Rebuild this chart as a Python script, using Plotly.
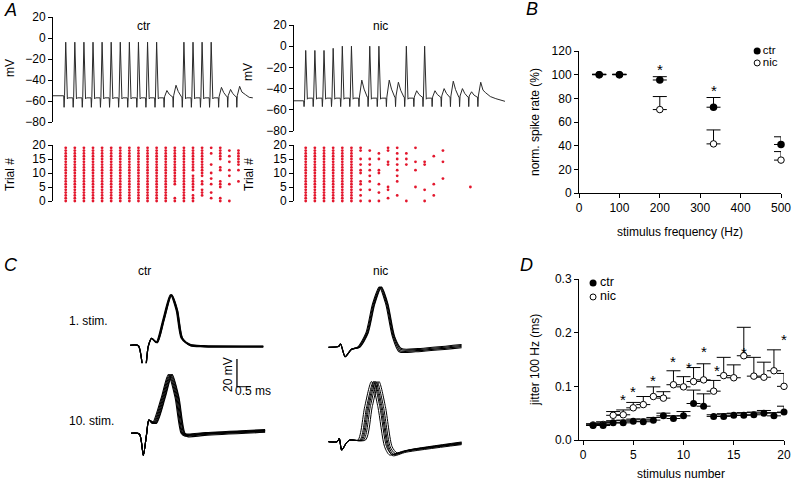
import plotly.graph_objects as go

FONT = "Liberation Sans, Arial, Helvetica, sans-serif"
W, H = 792, 484

# ---------------- DATA ----------------
# Panel A: 100 Hz train, 20 stimuli. Event per stimulus: S = spike, E = subthreshold EPSP; peak in mV
stim_index = list(range(20))
ctr_event_kind = ["S"] * 11 + ["E", "E"] + ["S"] * 4 + ["E", "E", "E"]
ctr_event_peak = [-4, -4, -4, -4, -4, -4, -4, -4, -4, -4, -4, -50, -45, -4, -4, -4, -4, -47, -49, -46]
nic_event_kind = ["S", "S", "S", "S", "S", "S", "E", "S", "S", "E", "E", "S", "E", "S", "E", "E", "E", "E", "E", "E"]
nic_event_peak = [-4, -4, -4, -2, 0, 0, -32, 0, 0, -32, -34, 0, -42, 0, -42, -40, -33, -40, -43, -34]
ctr_tail_t = [200, 204, 208]
ctr_tail_v = [-54, -56.5, -57]
nic_tail_t = [199, 204, 210, 220]
nic_tail_v = [-44, -47.5, -49.5, -52]

# Raster: trials (0..19) with a spike, per stimulus
ALL = list(range(20))
ctr_raster = [ALL] * 12 + [
    [0, 1, 6, 7, 8, 9, 10, 11, 12, 13, 14, 15, 16, 17, 18, 19],
    ALL,
    [0, 1, 2, 4, 5, 6, 7, 8, 9, 11, 12, 13, 14, 15, 16, 17, 18, 19],
    [2, 3, 4, 6, 7, 9, 10, 11, 12, 13, 14, 15, 16, 17, 18, 19],
    [1, 3, 6, 8, 10, 13, 17, 19],
    [0, 1, 5, 6, 7, 11, 12, 15, 16, 17, 18, 19],
    [0, 6, 9, 11, 14, 16, 18],
    [7, 11, 13, 14, 15, 16, 17, 18],
]
nic_raster = [ALL] * 6 + [
    [0, 2, 4, 6, 7, 10, 11, 13, 15, 18, 19],
    [0, 4, 7, 9, 11, 13, 15, 18],
    [0, 3, 6, 10, 11, 15, 17],
    [1, 4, 5, 13, 14, 18, 19],
    [2, 7, 9, 11, 13, 15, 17, 19],
    [0, 13, 15, 17],
    [5, 11, 14, 19],
    [0, 4, 13, 14],
    [2, 6, 16],
    [8, 14, 18],
    [], [], [5], [],
]

# Panel B
freq_hz = [50, 100, 200, 333, 500]
ctr_rate = [100, 100, 95.5, 72.5, 41]
ctr_rate_err = [0.3, 0.3, 2.8, 8.2, 6.5]
nic_rate = [100, 100, 70.5, 41.5, 27.8]
nic_rate_err = [0.3, 0.3, 11.0, 11.8, 7.2]
star_b_x = [200, 333]
star_b_y = [108, 90]
legend_names = ["ctr", "nic"]

# Panel D
stim_number = list(range(1, 21))
ctr_jitter = [0.027, 0.027, 0.032, 0.032, 0.035, 0.034, 0.037, 0.045, 0.040, 0.045,
              0.068, 0.063, 0.044, 0.044, 0.046, 0.046, 0.047, 0.050, 0.045, 0.052]
ctr_jitter_err = [0.003, 0.005, 0.004, 0.005, 0.004, 0.005, 0.005, 0.005, 0.005, 0.008,
                  0.025, 0.023, 0.003, 0.005, 0.004, 0.005, 0.005, 0.005, 0.006, 0.011]
nic_jitter = [0.028, 0.029, 0.046, 0.047, 0.060, 0.066, 0.081, 0.078, 0.103, 0.099,
              0.109, 0.112, 0.091, 0.120, 0.116, 0.157, 0.119, 0.117, 0.129, 0.100]
nic_jitter_err = [0.002, 0.005, 0.007, 0.009, 0.010, 0.015, 0.018, 0.012, 0.026, 0.019,
                  0.026, 0.030, 0.020, 0.034, 0.024, 0.053, 0.035, 0.028, 0.039, 0.024]
star_d_x = [4, 5, 7, 9, 10.5, 12, 13.3, 16, 20]
star_d_y = [0.083, 0.098, 0.119, 0.154, 0.143, 0.172, 0.137, 0.171, 0.194]

# Panel C: knot points (ms, mV relative to baseline); artifact part fixed, spike part jittered
ctr1_art_t = [0, 0.30, 0.51, 0.65, 0.77]
ctr1_art_v = [0, -0.3, -23.6, -1, 5]
ctr1_spk_t = [0.95, 1.19, 1.46, 1.67, 1.85, 2.14, 2.6, 4.76]
ctr1_spk_v = [1.9, 18, 36, 25, 5, 0, -0.8, -1]
ctr1_lat = [-0.02, 0.0, 0.02, 0.03]
ctr1_tail = [0.0, 0.3, -0.3, 0.5]

ctr10_art_t = [0, 0.30, 0.44, 0.56, 0.64]
ctr10_art_v = [0, -0.5, -15.7, 0, 9.5]
ctr10_spk_t = [0.82, 1.15, 1.39, 1.63, 1.85, 1.99, 2.6, 4.79]
ctr10_spk_v = [7, 26, 42, 26, 0, -2, -1, 1.2]
ctr10_lat = [-0.06, -0.03, 0.0, 0.03, 0.06, 0.08]
ctr10_tail = [0.0, 0.5, 1.0, -0.5, 1.5, 0.8]

nic1_art_t = [0, 0.36, 0.44, 0.60, 0.83]
nic1_art_v = [0, 0.5, 2.4, -6.7, -1.4]
nic1_spk_t = [1.07, 1.37, 1.61, 1.85, 2.08, 2.32, 2.56, 3.15, 4.76]
nic1_spk_v = [0, 10, 31, 43, 31, 7.6, -2.4, -2.4, 0.5]
nic1_lat = [-0.03, 0.0, 0.03, 0.05]
nic1_tail = [-0.8, 0.0, 0.8, 1.5]

nic10_art_t = [0, 0.32, 0.39, 0.48, 0.65, 0.77]
nic10_art_v = [0, 0, 2.4, -6, -0.7, 1.2]
nic10_spk_t = [1.19, 1.43, 1.67, 1.90, 2.14, 2.32, 2.8, 4.76]
nic10_spk_v = [1.2, 25, 43, 25, -3.6, -9.5, -7, -1.6]
nic10_lat = [-0.13, -0.06, -0.02, 0.02, 0.07, 0.14]
nic10_tail = [0.0, 0.6, -0.5, 0.3, 1.0, 1.4]


# ---------------- helpers ----------------
def fx(p):
    return p / W


def fy(p):
    return 1 - p / H


def build_train(kinds, peaks, base, rest, art, t_start, tail_t, tail_v, isi=10.0):
    t, v = [t_start], [base]
    level = base
    n = len(kinds)
    for k, (kd, pk) in enumerate(zip(kinds, peaks)):
        s = k * isi
        if kd == "S":
            t += [s, s + 0.4, s + 0.9, s + 2.2, s + 3.2, s + 4.0, s + 5.0]
            v += [level, art, level, pk, rest + 4, rest - 1, rest]
            level = rest
        else:
            t += [s, s + 0.4, s + 0.9, s + 3.5, s + 6.0]
            v += [level, art, level + 1, pk, (pk + rest) / 2]
            if k < n - 1:
                t += [s + 9.5]
                v += [rest + 1]
                level = rest + 1
    t += tail_t
    v += tail_v
    return t, v


def sweeps(art_t, art_v, spk_t, spk_v, lats, tails):
    out = []
    m = len(spk_t)
    for lat, tail in zip(lats, tails):
        t = list(art_t) + [x + (lat if i < m - 1 else 0) for i, x in enumerate(spk_t)]
        v = list(art_v) + [y + (tail if i >= m - 3 else 0) for i, y in enumerate(spk_v)]
        out.append((t, v))
    return out


def raster_xy(raster, latency=2.2, isi=10.0):
    xs, ys = [], []
    for k, trials in enumerate(raster):
        for tr in trials:
            xs.append(k * isi + latency)
            ys.append(tr)
    return xs, ys


TICKFONT = dict(family=FONT, size=12, color="black")


def ax(**kw):
    d = dict(showline=True, linecolor="black", linewidth=1, ticks="outside", ticklen=4,
             tickwidth=1, tickcolor="black", showgrid=False, zeroline=False,
             tickfont=TICKFONT, fixedrange=True, automargin=False, ticklabeloverflow="allow")
    d.update(kw)
    return d


def hid(**kw):
    d = dict(visible=False, showgrid=False, zeroline=False, fixedrange=True, automargin=False)
    d.update(kw)
    return d


fig = go.Figure()
TRACE_COL = "#2a2a2a"
RED = "#e3172d"

# ---------- Panel A ----------
ct, cv = build_train(ctr_event_kind, ctr_event_peak, -55, -57, -66, -11.8, ctr_tail_t, ctr_tail_v)
fig.add_trace(go.Scatter(x=ct, y=cv, mode="lines", line=dict(color=TRACE_COL, width=1),
                         xaxis="x", yaxis="y", hoverinfo="skip"))
nt, nv = build_train(nic_event_kind, nic_event_peak, -51.5, -49, -57, -10.6, nic_tail_t, nic_tail_v)
fig.add_trace(go.Scatter(x=nt, y=nv, mode="lines", line=dict(color=TRACE_COL, width=1),
                         xaxis="x3", yaxis="y3", hoverinfo="skip"))
rx, ry = raster_xy(ctr_raster)
fig.add_trace(go.Scatter(x=rx, y=ry, mode="markers", marker=dict(color=RED, size=2.8),
                         xaxis="x2", yaxis="y2", cliponaxis=False, hoverinfo="skip"))
rx, ry = raster_xy(nic_raster)
fig.add_trace(go.Scatter(x=rx, y=ry, mode="markers", marker=dict(color=RED, size=2.8),
                         xaxis="x4", yaxis="y4", cliponaxis=False, hoverinfo="skip"))

# ---------- Panel B ----------
OPEN = dict(symbol="circle", color="white", line=dict(color="black", width=1))
fig.add_trace(go.Scatter(x=freq_hz, y=nic_rate, mode="markers", marker=dict(size=6.5, **OPEN),
                         error_y=dict(type="data", symmetric=False, array=nic_rate_err,
                                      arrayminus=[0] * 5, color="black", thickness=1, width=7),
                         xaxis="x5", yaxis="y5", cliponaxis=False))
fig.add_trace(go.Scatter(x=freq_hz, y=ctr_rate, mode="markers",
                         marker=dict(symbol="circle", size=7.5, color="black"),
                         error_y=dict(type="data", symmetric=False, array=ctr_rate_err,
                                      arrayminus=[0] * 5, color="black", thickness=1, width=7),
                         xaxis="x5", yaxis="y5", cliponaxis=False))
# legend keys + labels for B (placed in axis units)
fig.add_trace(go.Scatter(x=[441], y=[120], mode="markers", marker=dict(symbol="circle", size=7, color="black"),
                         xaxis="x5", yaxis="y5", cliponaxis=False))
fig.add_trace(go.Scatter(x=[441], y=[109.9], mode="markers", marker=dict(size=6, **OPEN),
                         xaxis="x5", yaxis="y5", cliponaxis=False))
fig.add_trace(go.Scatter(x=[455, 455], y=[120, 109.9], mode="text", text=legend_names,
                         textposition="middle right", textfont=dict(family=FONT, size=11.5, color="black"),
                         xaxis="x5", yaxis="y5", cliponaxis=False))

# ---------- Panel C ----------
for (t, v) in sweeps(ctr1_art_t, ctr1_art_v, ctr1_spk_t, ctr1_spk_v, ctr1_lat, ctr1_tail):
    fig.add_trace(go.Scatter(x=t, y=v, mode="lines", line=dict(color="black", width=1.2, shape="spline", smoothing=0.7),
                             xaxis="x6", yaxis="y6", cliponaxis=False))
for (t, v) in sweeps(ctr10_art_t, ctr10_art_v, ctr10_spk_t, ctr10_spk_v, ctr10_lat, ctr10_tail):
    fig.add_trace(go.Scatter(x=t, y=v, mode="lines", line=dict(color="black", width=1.1, shape="spline", smoothing=0.7),
                             xaxis="x7", yaxis="y7", cliponaxis=False))
for (t, v) in sweeps(nic1_art_t, nic1_art_v, nic1_spk_t, nic1_spk_v, nic1_lat, nic1_tail):
    fig.add_trace(go.Scatter(x=t, y=v, mode="lines", line=dict(color="black", width=1.1, shape="spline", smoothing=0.7),
                             xaxis="x8", yaxis="y8", cliponaxis=False))
for (t, v) in sweeps(nic10_art_t, nic10_art_v, nic10_spk_t, nic10_spk_v, nic10_lat, nic10_tail):
    fig.add_trace(go.Scatter(x=t, y=v, mode="lines", line=dict(color="black", width=1.0, shape="spline", smoothing=0.7),
                             xaxis="x9", yaxis="y9", cliponaxis=False))

# ---------- Panel D ----------
fig.add_trace(go.Scatter(x=stim_number, y=nic_jitter, mode="markers", marker=dict(size=6.5, **OPEN),
                         error_y=dict(type="data", symmetric=False, array=nic_jitter_err,
                                      arrayminus=[0] * 20, color="black", thickness=1, width=7),
                         xaxis="x10", yaxis="y10", cliponaxis=False))
fig.add_trace(go.Scatter(x=stim_number, y=ctr_jitter, mode="markers",
                         marker=dict(symbol="circle", size=7, color="black"),
                         error_y=dict(type="data", symmetric=False, array=ctr_jitter_err,
                                      arrayminus=[0] * 20, color="black", thickness=1, width=7),
                         xaxis="x10", yaxis="y10", cliponaxis=False))
# legend keys + labels for D
fig.add_trace(go.Scatter(x=[1.0], y=[0.2925], mode="markers", marker=dict(symbol="circle", size=7, color="black"),
                         xaxis="x10", yaxis="y10", cliponaxis=False))
fig.add_trace(go.Scatter(x=[1.0], y=[0.2665], mode="markers", marker=dict(size=6, **OPEN),
                         xaxis="x10", yaxis="y10", cliponaxis=False))
fig.add_trace(go.Scatter(x=[1.7, 1.7], y=[0.2925, 0.2665], mode="text", text=legend_names,
                         textposition="middle right", textfont=dict(family=FONT, size=12.5, color="black"),
                         xaxis="x10", yaxis="y10", cliponaxis=False))

# ---------------- layout ----------------
layout = dict(
    template="none",
    width=W, height=H, margin=dict(l=0, r=0, t=0, b=0, autoexpand=False),
    paper_bgcolor="white", plot_bgcolor="white", showlegend=False,
    font=dict(family=FONT, size=12, color="black"),
)
# A ctr trace / raster
layout["xaxis"] = hid(domain=[fx(53), fx(255)], range=[-11.8, 210.4], anchor="y")
layout["yaxis"] = ax(domain=[fy(122), fy(17)], range=[-80, 20], tickvals=[-80, -60, -40, -20, 0, 20], anchor="x")
layout["xaxis2"] = hid(domain=[fx(53), fx(255)], range=[-11.8, 210.4], anchor="y2")
layout["yaxis2"] = ax(domain=[fy(201), fy(145)], range=[0, 20], tickvals=[0, 5, 10, 15, 20], anchor="x2")
# A nic
layout["xaxis3"] = hid(domain=[fx(294), fx(510)], range=[-10.6, 225.5], anchor="y3")
layout["yaxis3"] = ax(domain=[fy(131), fy(25)], range=[-80, 20], tickvals=[-80, -60, -40, -20, 0, 20], anchor="x3")
layout["xaxis4"] = hid(domain=[fx(294), fx(510)], range=[-10.6, 225.5], anchor="y4")
layout["yaxis4"] = ax(domain=[fy(201), fy(145)], range=[0, 20], tickvals=[0, 5, 10, 15, 20], anchor="x4")
# B
layout["xaxis5"] = ax(domain=[fx(579), fx(781)], range=[0, 500], tickvals=[0, 100, 200, 300, 400, 500], anchor="y5")
layout["yaxis5"] = ax(domain=[fy(193), fy(51)], range=[0, 120], tickvals=[0, 20, 40, 60, 80, 100, 120], anchor="x5")
# C
layout["xaxis6"] = hid(domain=[fx(130), fx(270)], range=[0, 5], anchor="y6")
layout["yaxis6"] = hid(domain=[fy(387.3), fy(275.3)], range=[-30, 50], anchor="x6")
layout["xaxis7"] = hid(domain=[fx(131), fx(271)], range=[0, 5], anchor="y7")
layout["yaxis7"] = hid(domain=[fy(475.3), fy(363.3)], range=[-30, 50], anchor="x7")
layout["xaxis8"] = hid(domain=[fx(328.3), fx(468.3)], range=[0, 5], anchor="y8")
layout["yaxis8"] = hid(domain=[fy(389.3), fy(277.3)], range=[-30, 50], anchor="x8")
layout["xaxis9"] = hid(domain=[fx(328.3), fx(468.3)], range=[0, 5], anchor="y9")
layout["yaxis9"] = hid(domain=[fy(483.7), fy(371.7)], range=[-30, 50], anchor="x9")
# D
layout["xaxis10"] = ax(domain=[fx(579), fx(784)], range=[-0.4, 20], tickvals=[0, 5, 10, 15, 20], anchor="y10")
layout["yaxis10"] = ax(domain=[fy(440), fy(279)], range=[0, 0.3], tickvals=[0, 0.1, 0.2, 0.3],
                       tickformat=".1f", anchor="x10")

ann = []


def txt(x, y, s, size=12, xanchor="center", yanchor="middle", angle=0):
    ann.append(dict(x=fx(x), y=fy(y), xref="paper", yref="paper", text=s, showarrow=False,
                    xanchor=xanchor, yanchor=yanchor, textangle=angle,
                    font=dict(family=FONT, size=size, color="black")))


# panel letters
txt(2, 10, "<i>A</i>", 18, xanchor="left")
txt(524, 9, "<i>B</i>", 18, xanchor="left")
txt(2, 265, "<i>C</i>", 18, xanchor="left")
txt(518, 265, "<i>D</i>", 18, xanchor="left")
# A labels
txt(143, 26, "ctr", 12)
txt(380, 26, "nic", 12)
txt(10, 68, "mV", 12, angle=-90)
txt(248, 72, "mV", 12, angle=-90)
txt(10, 175, "Trial #", 12, angle=-90)
txt(249, 175, "Trial #", 12, angle=-90)
# B labels
txt(535, 122, "norm. spike rate (%)", 12, angle=-90)
txt(680, 232, "stimulus frequency (Hz)", 12)
# C labels
txt(144, 271, "ctr", 12)
txt(380, 271, "nic", 12)
txt(67, 321, "1. stim.", 12, xanchor="left")
txt(67, 421, "10. stim.", 12, xanchor="left")
txt(228, 375, "20 mV", 12, angle=-90)
txt(233, 391, "0.5 ms", 12, xanchor="left")
# D labels
txt(535, 360, "jitter 100 Hz (ms)", 12, angle=-90)
txt(681, 474, "stimulus number", 12)

# significance stars
for sx, sy in zip(star_b_x, star_b_y):
    ann.append(dict(x=sx, y=sy, xref="x5", yref="y5", text="*", showarrow=False, yshift=-4,
                    font=dict(family=FONT, size=15, color="black")))
for sx, sy in zip(star_d_x, star_d_y):
    ann.append(dict(x=sx, y=sy, xref="x10", yref="y10", text="*", showarrow=False, yshift=-4,
                    font=dict(family=FONT, size=15, color="black")))
layout["annotations"] = ann

# scale bar (20 mV, 0.5 ms) in the C ctr 1.stim axes
layout["shapes"] = [
    dict(type="line", xref="x6", yref="y6", x0=3.82, x1=3.82, y0=-29.8, y1=-9.8, line=dict(color="black", width=1.3)),
    dict(type="line", xref="x6", yref="y6", x0=3.82, x1=4.32, y0=-29.8, y1=-29.8, line=dict(color="black", width=1.3)),
]

fig.update_layout(**layout)
fig.write_html("out.html", include_plotlyjs=True, config={"displayModeBar": False},
               post_script="document.body.style.margin='0px';document.body.style.overflow='hidden';")
